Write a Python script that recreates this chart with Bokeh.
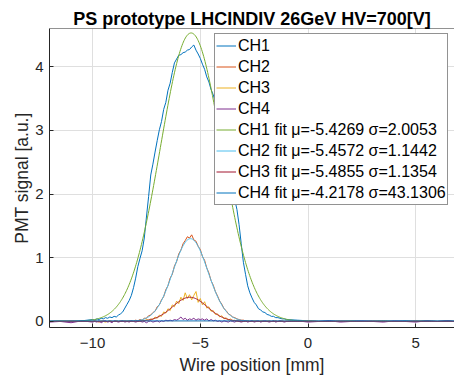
import numpy as np
from bokeh.plotting import figure
from bokeh.models import Legend, LegendItem, FixedTicker, Range1d, Span
from bokeh.embed import file_html
from bokeh.resources import INLINE

# ---------------- data ----------------
wire_pos = [-12.0, -11.5, -11.0, -10.5,
            -10.0, -9.9, -9.8, -9.7, -9.6, -9.5, -9.4, -9.3, -9.2, -9.1,
            -9.0, -8.9, -8.8, -8.7, -8.6, -8.5, -8.4, -8.3, -8.2, -8.1,
            -8.0, -7.9, -7.8, -7.7, -7.6, -7.5, -7.4, -7.3, -7.2, -7.1,
            -7.0, -6.9, -6.8, -6.7, -6.6, -6.5, -6.4, -6.3, -6.2, -6.1,
            -6.0, -5.9, -5.8, -5.7, -5.6, -5.5, -5.4, -5.3, -5.2, -5.1,
            -5.0, -4.9, -4.8, -4.7, -4.6, -4.5, -4.4, -4.3, -4.2, -4.1,
            -4.0, -3.9, -3.8, -3.7, -3.6, -3.5, -3.4, -3.3, -3.2, -3.1,
            -3.0, -2.9, -2.8, -2.7, -2.6, -2.5, -2.4, -2.3, -2.2, -2.1,
            -2.0, -1.9, -1.8, -1.7, -1.6, -1.5, -1.4, -1.3, -1.2, -1.1,
            -1.0,
            -0.5, 0.0, 0.5, 1.0, 1.5, 2.0, 2.5, 3.0, 3.5, 4.0, 4.5, 5.0, 5.5, 6.0, 6.5, 6.8]

ch1 = [0.00, 0.01, 0.00, 0.01,
       0.03, 0.02, 0.04, 0.03, 0.05, 0.04, 0.06, 0.05, 0.07, 0.06,
       0.08, 0.07, 0.10, 0.12, 0.15, 0.21, 0.27, 0.33, 0.41, 0.53,
       0.68, 0.86, 0.99, 1.11, 1.31, 1.64, 1.96, 2.30, 2.47, 2.66,
       2.84, 3.01, 3.14, 3.33, 3.44, 3.63, 3.74, 3.91, 4.06, 4.12,
       4.18, 4.19, 4.22, 4.23, 4.26, 4.27, 4.31, 4.34, 4.26, 4.20,
       4.13, 4.04, 3.96, 3.84, 3.76, 3.64, 3.56, 3.44, 3.34, 3.17,
       3.01, 2.81, 2.63, 2.41, 2.23, 2.04, 1.91, 1.76, 1.52, 1.22,
       0.93, 0.74, 0.56, 0.45, 0.37, 0.30, 0.26, 0.20, 0.18, 0.15,
       0.14, 0.11, 0.10, 0.08, 0.08, 0.06, 0.06, 0.05, 0.04, 0.04,
       0.03,
       0.02, 0.01, 0.00, 0.01, 0.00, 0.01, 0.00, 0.00, 0.01, 0.00, 0.01, 0.00, 0.01, 0.00, 0.01, 0.00]

ch2 = [0.00, 0.00, 0.01, 0.00,
       0.00, 0.01, 0.00, -0.01, 0.00, 0.01, 0.00, 0.00, 0.01, 0.00,
       0.00, 0.01, 0.00, 0.01, 0.00, 0.01, 0.00, 0.01, 0.01, 0.00,
       0.02, 0.01, 0.03, 0.02, 0.05, 0.05, 0.09, 0.10, 0.14, 0.16,
       0.23, 0.26, 0.34, 0.39, 0.50, 0.56, 0.68, 0.74, 0.87, 0.94,
       1.06, 1.12, 1.22, 1.27, 1.33, 1.31, 1.36, 1.28, 1.26, 1.18,
       1.13, 1.02, 0.96, 0.84, 0.76, 0.64, 0.57, 0.47, 0.40, 0.32,
       0.27, 0.20, 0.17, 0.12, 0.10, 0.07, 0.06, 0.04, 0.03, 0.02,
       0.02, 0.01, 0.01, 0.00, 0.01, 0.00, 0.01, 0.00, 0.00, 0.01,
       0.00, 0.00, 0.01, 0.00, 0.00, 0.01, 0.00, 0.00, 0.01, 0.00,
       0.00,
       0.00, 0.01, 0.00, 0.00, 0.01, 0.00, 0.00, 0.01, 0.00, 0.00, 0.00, 0.01, 0.00, 0.00, 0.01, 0.00]

ch3 = [0.00, 0.01, 0.00, 0.00,
       0.00, 0.01, 0.00, 0.00, 0.01, 0.00, -0.01, 0.00, 0.01, 0.00,
       0.00, 0.01, 0.00, 0.00, 0.01, 0.00, 0.01, 0.00, 0.00, 0.01,
       0.00, 0.01, 0.00, 0.02, 0.01, 0.03, 0.02, 0.04, 0.03, 0.07,
       0.05, 0.10, 0.08, 0.15, 0.13, 0.20, 0.17, 0.26, 0.23, 0.32,
       0.28, 0.38, 0.33, 0.45, 0.36, 0.42, 0.34, 0.41, 0.47, 0.30,
       0.36, 0.26, 0.31, 0.21, 0.23, 0.16, 0.17, 0.11, 0.12, 0.07,
       0.09, 0.04, 0.06, 0.02, 0.04, 0.01, 0.02, 0.00, 0.01, 0.00,
       0.01, 0.00, 0.01, 0.00, 0.00, 0.01, 0.00, 0.00, 0.01, 0.00,
       0.00, 0.01, 0.00, 0.00, 0.01, 0.00, 0.00, 0.01, 0.00, 0.00,
       0.01,
       0.00, 0.01, 0.00, 0.00, 0.00, 0.01, 0.00, 0.00, 0.01, 0.00, 0.00, 0.00, 0.01, 0.00, 0.00, 0.00]

ch4 = [-0.01, 0.00, -0.02, 0.01,
       -0.01, 0.00, -0.01, 0.01, -0.02, 0.00, 0.01, -0.01, 0.00, -0.02,
       0.01, 0.00, -0.01, 0.00, 0.01, -0.01, 0.00, -0.01, 0.01, 0.00,
       -0.01, 0.00, 0.01, -0.01, 0.00, -0.02, 0.00, 0.01, -0.01, 0.00,
       0.01, -0.01, 0.01, 0.00, 0.02, 0.01, 0.02, 0.01, 0.03, 0.02,
       0.04, 0.07, 0.03, 0.05, 0.02, 0.04, 0.03, 0.05, 0.02, 0.04,
       0.03, 0.04, 0.02, 0.04, 0.01, 0.03, 0.01, 0.02, 0.00, 0.01,
       -0.01, 0.01, 0.00, -0.01, 0.01, 0.00, -0.01, 0.01, 0.00, -0.01,
       0.00, 0.01, -0.01, 0.00, 0.01, -0.01, 0.00, 0.01, -0.01, 0.00,
       0.01, 0.00, -0.01, 0.00, 0.01, -0.01, 0.00, 0.01, 0.00, -0.01,
       0.00,
       0.01, -0.01, 0.00, 0.01, -0.01, 0.00, 0.01, 0.00, -0.01, 0.01, 0.00, -0.01, 0.01, 0.00, 0.01, 0.00]

channels = ["CH1", "CH2", "CH3", "CH4"]
fit_mu = [-5.4269, -5.4572, -5.4855, -4.2178]
fit_sigma = [2.0053, 1.1442, 1.1354, 43.1306]
fit_amp = [4.53, 1.30, 0.38, 0.01]

x_ticks = [-10, -5, 0, 5]
y_ticks = [0, 1, 2, 3, 4]

data_colors = ["#0072BD", "#D95319", "#EDB120", "#7E2F8E"]
fit_colors = ["#77AC30", "#4DBEEE", "#A2142F", "#0072BD"]

FONT = "Liberation Sans"
INK = "#262626"

# ---------------- figure ----------------
p = figure(width=454, height=378,
           x_range=Range1d(-12, 6.8), y_range=Range1d(-0.095, 4.6),
           output_backend="svg", toolbar_location=None,
           min_border_left=49, min_border_right=0,
           min_border_top=28, min_border_bottom=51,
           title="PS prototype LHCINDIV 26GeV HV=700[V]")
p.background_fill_color = "white"
p.border_fill_color = "white"
p.outline_line_color = None

bx = p.below[0]
ly = p.left[0]

p.title.text_font = FONT
p.title.text_font_size = "18px"
p.title.text_font_style = "bold"
p.title.text_color = "black"
p.title.align = "center"
p.title.standoff = 0
p.title.offset = 0

# top border of the box
p.add_layout(Span(location=p.y_range.end, dimension="width",
                  line_color=INK, line_width=1))

for ax in [bx, ly]:
    ax.axis_line_color = INK
    ax.major_tick_line_color = INK
    ax.major_tick_in = 4
    ax.major_tick_out = 0
    ax.minor_tick_line_color = None
    ax.major_label_text_color = INK
    ax.major_label_text_font = FONT
    ax.major_label_text_font_size = "15px"

bx.ticker = FixedTicker(ticks=x_ticks)
ly.ticker = FixedTicker(ticks=y_ticks)
bx.major_label_standoff = 10
ly.major_label_standoff = 6

bx.axis_label = "Wire position [mm]"
ly.axis_label = "PMT signal [a.u.]"
for ax in [bx, ly]:
    ax.axis_label_text_font = FONT
    ax.axis_label_text_font_size = "17.5px"
    ax.axis_label_text_font_style = "normal"
    ax.axis_label_text_color = INK
bx.axis_label_standoff = 4
ly.axis_label_standoff = 0

p.xgrid.ticker = FixedTicker(ticks=x_ticks)
p.ygrid.ticker = FixedTicker(ticks=y_ticks)
p.xgrid.grid_line_color = "#dfdfdf"
p.ygrid.grid_line_color = "#dfdfdf"

# ---------------- lines ----------------
items = []
series = [ch1, ch2, ch3, ch4]
for name, ys, col in zip(channels, series, data_colors):
    r = p.line(wire_pos, ys, line_color=col, line_width=1)
    items.append(LegendItem(label=name, renderers=[r]))

x_fit = np.linspace(-12, 6.8, 600)
for name, mu, sg, a, col in zip(channels, fit_mu, fit_sigma, fit_amp, fit_colors):
    y_fit = a * np.exp(-((x_fit - mu) / sg) ** 2)
    r = p.line(x_fit, y_fit, line_color=col, line_width=1)
    items.append(LegendItem(label=f"{name} fit \u03bc={mu:.4f} \u03c3={sg:.4f}", renderers=[r]))

legend = Legend(items=items, location=(165, 122))
legend.label_text_font = FONT
legend.label_text_font_size = "16px"
legend.label_text_color = "black"
legend.label_height = 21
legend.glyph_height = 21
legend.glyph_width = 20
legend.label_standoff = 2
legend.spacing = 0
legend.padding = 1
legend.margin = 0
legend.border_line_color = INK
legend.border_line_width = 1
legend.background_fill_color = "white"
legend.background_fill_alpha = 1
p.add_layout(legend)

open("out.html", "w").write(file_html(p, INLINE))
